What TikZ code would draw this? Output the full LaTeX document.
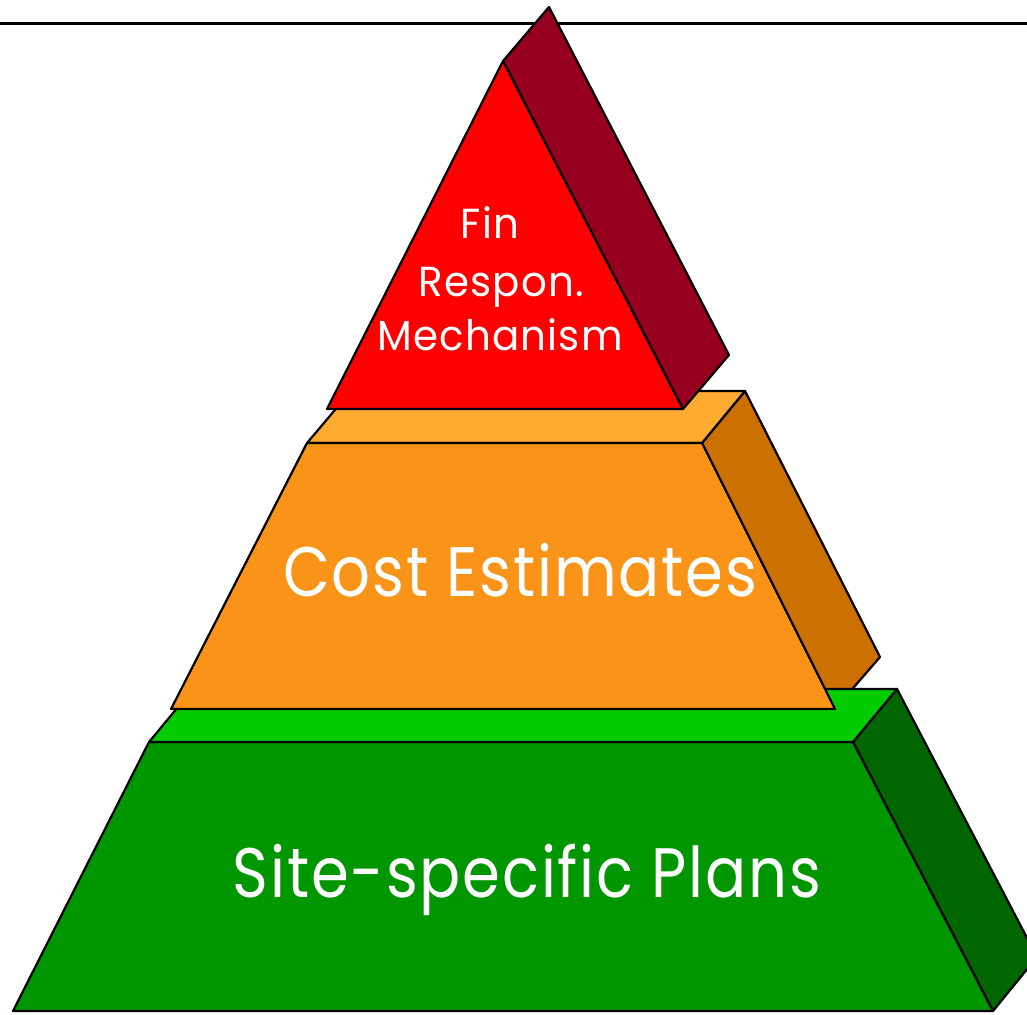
\documentclass[tikz,border=0pt]{standalone}
\usepackage{fontspec}
\newfontfamily\pyrfont[LetterSpace=3]{Poppins}
\definecolor{redfront}{HTML}{FF0000}
\definecolor{redside}{HTML}{96001E}
\definecolor{orgtop}{HTML}{FFAA30}
\definecolor{orgfront}{HTML}{FA9418}
\definecolor{orgside}{HTML}{CC7000}
\definecolor{grntop}{HTML}{00CC00}
\definecolor{grnfront}{HTML}{009600}
\definecolor{grnside}{HTML}{006600}
\begin{document}
\begin{tikzpicture}[x=1pt,y=-1pt,
  face/.style={draw=black,line width=2.2pt,line join=round},
  label/.style={text=white,inner sep=0pt,anchor=base},
  smalltxt/.style={label,font={\pyrfont\fontsize{42}{56}\selectfont}},
  bigtxt/.style={label,font={\pyrfont\fontsize{70}{80}\selectfont}}]
\useasboundingbox (0,0) rectangle (1027,1014);
\clip (0,0) rectangle (1027,1014);
% coordinates
\coordinate (la) at (0,24);
\coordinate (lb) at (1027,24);
% red
\coordinate (rA) at (503,61);
\coordinate (rAb) at (549,7);
\coordinate (rR) at (683,409);
\coordinate (rRb) at (729,355);
\coordinate (rL) at (327,409);
% orange
\coordinate (oTL) at (307,443);
\coordinate (oTR) at (702,443);
\coordinate (oTLb) at (351,391);
\coordinate (oTRb) at (745,391);
\coordinate (oBR) at (835,709);
\coordinate (oBRb) at (880,657);
\coordinate (oBL) at (171,709);
% green
\coordinate (gTL) at (149,742);
\coordinate (gTR) at (853,742);
\coordinate (gTLb) at (193,689);
\coordinate (gTRb) at (897,689);
\coordinate (gBR) at (993,1011);
\coordinate (gBRb) at (1037,957);
\coordinate (gBL) at (13,1011);
% top rule
\draw[line width=3pt] (la) -- (lb);
% green block
\draw[face,fill=grnside] (gTR) -- (gTRb) -- (gBRb) -- (gBR) -- cycle;
\draw[face,fill=grnfront] (gTL) -- (gTR) -- (gBR) -- (gBL) -- cycle;
% orange block
\draw[face,fill=orgside] (oTR) -- (oTRb) -- (oBRb) -- (oBR) -- cycle;
\draw[face,fill=grntop] (gTL) -- (gTR) -- (gTRb) -- (gTLb) -- cycle;
\draw[face,fill=orgtop] (oTL) -- (oTR) -- (oTRb) -- (oTLb) -- cycle;
\draw[face,fill=orgfront] (oTL) -- (oTR) -- (oBR) -- (oBL) -- cycle;
% red block
\draw[face,fill=redside] (rA) -- (rAb) -- (rRb) -- (rR) -- cycle;
\draw[face,fill=redfront] (rA) -- (rR) -- (rL) -- cycle;
% labels
\node[smalltxt] (fin1) at (490,238) {\scalebox{0.96}[1]{Fin}};
\node[smalltxt] (fin2) at (501,296) {\scalebox{0.96}[1]{Respon.}};
\node[smalltxt] (fin3) at (500,350) {\scalebox{0.96}[1]{Mechanism}};
\node[bigtxt] (cost) at (520,596) {\scalebox{0.87}[1]{Cost Estimates}};
\node[bigtxt] (site) at (527,897) {\scalebox{0.87}[1]{Site-specific Plans}};
\end{tikzpicture}
\end{document}
